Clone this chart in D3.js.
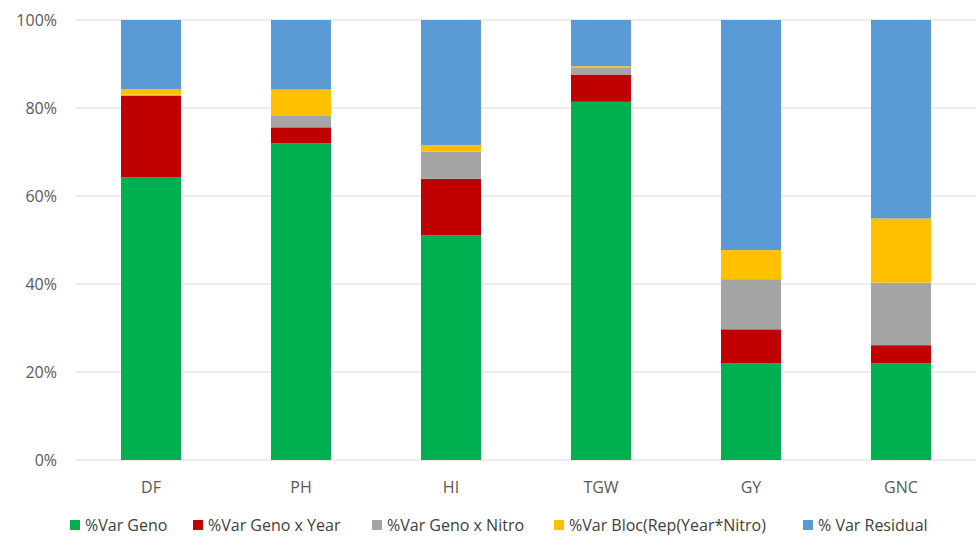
<!DOCTYPE html>
<html>
<head>
<meta charset="utf-8">
<script src="https://cdn.jsdelivr.net/npm/d3@7"></script>
<style>
  body { margin: 0; background: #fff; }
  svg text { font-family: "Open Sans", "Noto Sans", sans-serif; fill: #595959; }
</style>
</head>
<body>
<svg id="chart" width="977" height="537"></svg>
<script>
// traits on the x axis
const traits = ['DF', 'PH', 'HI', 'TGW', 'GY', 'GNC'];

// share of variance (%) per source, one value per trait
const varGeno      = [64.3, 72.0, 51.1, 81.4, 22.0, 22.0];
const varGenoYear  = [18.5, 3.6, 12.8, 6.2, 7.7, 4.1];
const varGenoNitro = [0.2, 2.6, 6.2, 1.5, 11.4, 14.2];
const varBloc      = [1.3, 6.0, 1.5, 0.4, 6.6, 14.6];
const varResidual  = [15.7, 15.8, 28.4, 10.5, 52.3, 45.1];

const seriesNames = ['%Var Geno', '%Var Geno x Year', '%Var Geno x Nitro', '%Var Bloc(Rep(Year*Nitro)', '% Var Residual'];
const seriesColors = ['#00b050', '#c00000', '#a5a5a5', '#ffc000', '#5b9bd5'];
const yTicks = [0, 20, 40, 60, 80, 100];

const keys = ['geno', 'genoYear', 'genoNitro', 'bloc', 'residual'];
const table = traits.map((t, i) => ({
  trait: t,
  geno: varGeno[i],
  genoYear: varGenoYear[i],
  genoNitro: varGenoNitro[i],
  bloc: varBloc[i],
  residual: varResidual[i]
}));

const svg = d3.select('#chart');
const margin = { top: 20, right: 1, bottom: 77, left: 76 };
const width = 977 - margin.left - margin.right;
const height = 537 - margin.top - margin.bottom;

const g = svg.append('g').attr('transform', `translate(${margin.left},${margin.top})`);

const x = d3.scaleBand().domain(traits).range([0, width]).paddingInner(0.6).paddingOuter(0.3);
const y = d3.scaleLinear().domain([0, 100]).range([height, 0]);

// gridlines
g.append('g')
  .selectAll('line')
  .data(yTicks)
  .join('line')
  .attr('x1', 0)
  .attr('x2', width)
  .attr('y1', d => y(d))
  .attr('y2', d => y(d))
  .attr('stroke', '#d9d9d9')
  .attr('stroke-width', 1);

// y labels
g.append('g')
  .selectAll('text')
  .data(yTicks)
  .join('text')
  .attr('x', -19)
  .attr('y', d => y(d))
  .attr('dy', '0.35em')
  .attr('text-anchor', 'end')
  .style('font-size', '16px')
  .text(d => d + '%');

// stacked bars
const stack = d3.stack().keys(keys)(table);
g.append('g')
  .selectAll('g')
  .data(stack)
  .join('g')
  .attr('fill', (d, i) => seriesColors[i])
  .selectAll('rect')
  .data(d => d)
  .join('rect')
  .attr('x', d => x(d.data.trait))
  .attr('width', x.bandwidth())
  .attr('y', d => y(d[1]))
  .attr('height', d => y(d[0]) - y(d[1]));

// x labels
g.append('g')
  .selectAll('text')
  .data(traits)
  .join('text')
  .attr('x', d => x(d) + x.bandwidth() / 2)
  .attr('y', height + 27)
  .attr('dy', '0.35em')
  .attr('text-anchor', 'middle')
  .style('font-size', '16px')
  .text(d => d);

// legend
const legendX = [70, 193, 372, 554, 803];
const legend = svg.append('g').attr('transform', 'translate(0,525)');
const item = legend.selectAll('g')
  .data(seriesNames)
  .join('g')
  .attr('transform', (d, i) => `translate(${legendX[i]},0)`);
item.append('rect')
  .attr('x', 0)
  .attr('y', -5)
  .attr('width', 10)
  .attr('height', 10)
  .attr('fill', (d, i) => seriesColors[i]);
item.append('text')
  .attr('x', 15)
  .attr('y', 0)
  .attr('dy', '0.35em')
  .style('font-size', '16px')
  .style('fill', '#404040')
  .text(d => d);
</script>
</body>
</html>
